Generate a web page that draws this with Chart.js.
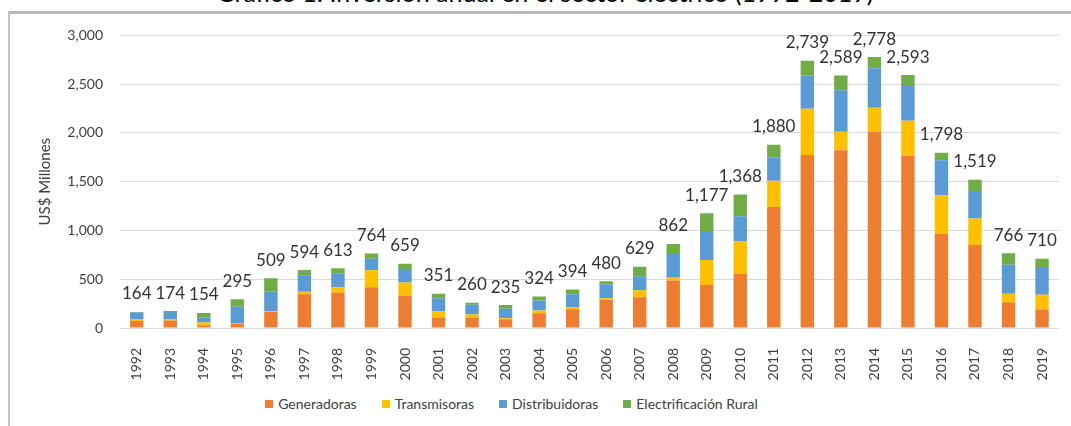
<!DOCTYPE html>
<html>
<head>
<meta charset="utf-8">
<script src="https://cdn.jsdelivr.net/npm/chart.js@4.4.0/dist/chart.umd.min.js"></script>
<style>
	body { margin: 0; width: 1071px; height: 426px; overflow: hidden; background: #fff; position: relative; font-family: Lato, sans-serif; }
	#title { position: absolute; left: 0; top: -20px; width: 1090px; text-align: center; font-size: 25px; line-height: 24px; color: #000; white-space: nowrap; }
	#frame { position: absolute; left: 8px; top: 11px; width: 1061px; height: 412px; border-top: 3px solid #b8b8b8; border-left: 2px solid #c4c4c4; }
	#wrap { position: absolute; left: 0; top: -4px; width: 1061px; height: 379px; }
	#legend { position: absolute; left: 0; top: 381px; width: 1003px; }
</style>
</head>
<body>
<div id="title">Gráfico 1: Inversión anual en el sector eléctrico (1992-2019)</div>
<div id="frame">
	<div id="wrap"><canvas id="chart"></canvas></div>
	<div id="legend"></div>
</div>
<script>
const years = ['1992', '1993', '1994', '1995', '1996', '1997', '1998', '1999', '2000', '2001',
	'2002', '2003', '2004', '2005', '2006', '2007', '2008', '2009', '2010', '2011',
	'2012', '2013', '2014', '2015', '2016', '2017', '2018', '2019'];

const generadoras = [71, 78, 27, 41, 163, 347, 364, 418, 333, 107,
	107, 90, 152, 193, 286, 314, 486, 442, 554, 1241,
	1775, 1822, 2013, 1765, 966, 850, 265, 190];
const transmisoras = [15, 10, 30, 10, 10, 24, 54, 174, 133, 65,
	31, 10, 27, 21, 18, 72, 38, 255, 333, 269,
	472, 191, 245, 360, 394, 272, 85, 150];
const distribuidoras = [75, 75, 48, 167, 198, 170, 143, 119, 139, 132,
	100, 97, 104, 131, 145, 145, 234, 286, 259, 238,
	340, 425, 404, 357, 360, 282, 299, 275];
const electrificacionRural = [3, 11, 49, 77, 138, 53, 52, 53, 54, 47,
	22, 38, 41, 49, 31, 98, 104, 194, 222, 132,
	152, 151, 116, 111, 78, 115, 117, 95];

const FONT = 'Lato, sans-serif';

// total above each stacked bar
const totalsPlugin = {
	id: 'totals',
	afterDatasetsDraw(chart) {
		const {ctx} = chart;
		const sets = chart.data.datasets;
		const top = chart.getDatasetMeta(sets.length - 1);
		ctx.save();
		ctx.font = `17px ${FONT}`;
		ctx.fillStyle = '#333333';
		ctx.textAlign = 'center';
		ctx.textBaseline = 'middle';
		top.data.forEach((bar, i) => {
			const total = sets.reduce((s, d) => s + d.data[i], 0);
			ctx.fillText(total.toLocaleString('en-US'), bar.x, bar.y - 18);
		});
		ctx.restore();
	}
};

const htmlLegendPlugin = {
	id: 'htmlLegend',
	afterUpdate(chart, args, options) {
		const box = document.getElementById(options.containerID);
		box.innerHTML = '';
		const row = document.createElement('div');
		row.style.display = 'flex';
		row.style.justifyContent = 'center';
		row.style.alignItems = 'center';

		const items = chart.options.plugins.legend.labels.generateLabels(chart);
		items.forEach((item, i) => {
			const li = document.createElement('div');
			li.style.display = 'flex';
			li.style.alignItems = 'center';
			li.style.marginLeft = i ? '25px' : '0';

			const sw = document.createElement('span');
			sw.style.display = 'inline-block';
			sw.style.width = '8px';
			sw.style.height = '8px';
			sw.style.background = item.fillStyle;
			sw.style.marginRight = '5px';

			const txt = document.createElement('span');
			txt.style.font = `14px ${FONT}`;
			txt.style.color = '#404040';
			txt.textContent = item.text;

			li.appendChild(sw);
			li.appendChild(txt);
			row.appendChild(li);
		});
		box.appendChild(row);
	}
};

new Chart(document.getElementById('chart'), {
	type: 'bar',
	data: {
		labels: years,
		datasets: [
			{label: 'Generadoras', data: generadoras, backgroundColor: '#ED7D31'},
			{label: 'Transmisoras', data: transmisoras, backgroundColor: '#FFC000'},
			{label: 'Distribuidoras', data: distribuidoras, backgroundColor: '#5B9BD5'},
			{label: 'Electrificación Rural', data: electrificacionRural, backgroundColor: '#70AD47'}
		]
	},
	options: {
		responsive: true,
		maintainAspectRatio: false,
		animation: false,
		datasets: {bar: {categoryPercentage: 1, barPercentage: 0.4, borderWidth: 0}},
		layout: {padding: {top: 17, right: 9, left: 0, bottom: 0}},
		plugins: {
			legend: {display: false},
			tooltip: {enabled: false},
			htmlLegend: {containerID: 'legend'}
		},
		scales: {
			x: {
				stacked: true,
				grid: {display: false},
				border: {display: false},
				ticks: {minRotation: 90, maxRotation: 90, padding: 12, color: '#404040', font: {family: FONT, size: 14}},
				afterFit: s => { s.height = 61; }
			},
			y: {
				stacked: true,
				min: 0,
				max: 3000,
				grid: {color: '#d9d9d9', drawTicks: false},
				border: {display: false},
				ticks: {
					stepSize: 500,
					padding: 17,
					color: '#404040',
					font: {family: FONT, size: 14},
					callback: v => v.toLocaleString('en-US')
				},
				title: {display: true, text: 'US$ Millones', color: '#404040', font: {family: FONT, size: 15}, padding: {top: 26, bottom: 0}},
				afterFit: s => { s.width = 110; }
			}
		}
	},
	plugins: [totalsPlugin, htmlLegendPlugin]
});
</script>
</body>
</html>
